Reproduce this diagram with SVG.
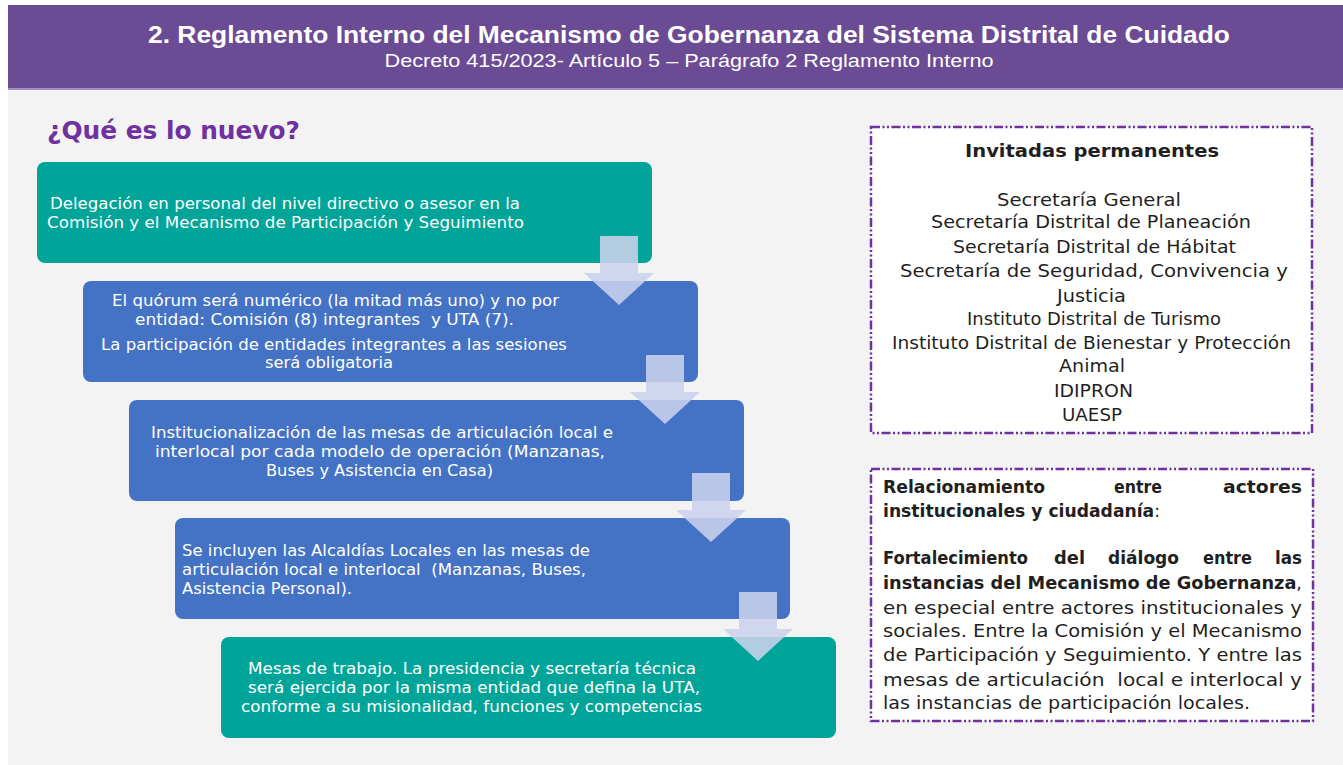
<svg xmlns="http://www.w3.org/2000/svg" width="1343" height="765" viewBox="0 0 1343 765">
<style>
.hdr{font-family:"Liberation Sans","DejaVu Sans",sans-serif;fill:#fff;text-anchor:middle}
.bx{font-family:"DejaVu Sans","Liberation Sans",sans-serif;font-size:15px;fill:#fff}
.teal{fill:#00a499}
.blue{fill:#4472c4}
.arr{fill:#cbd1ec;fill-opacity:0.88}
.panel{fill:#fff;stroke:#7030a0;stroke-width:2.5;stroke-dasharray:9 2.5 2 2.5 2 2.5}
.pt{font-family:"DejaVu Sans","Liberation Sans",sans-serif;font-size:17px;fill:#1f1f1f}
.c{text-anchor:middle}
.b{font-weight:bold}
.pre{white-space:pre}
</style>
<rect x="0" y="0" width="1343" height="765" fill="#ffffff"/>
<rect x="8" y="89" width="1335" height="676" fill="#f3f3f3"/>
<g id="header">
<rect x="8" y="5" width="1335" height="84" fill="#6b4b94"/>
<rect x="8" y="88" width="1335" height="2" fill="#a28fc3"/>
<text class="hdr" x="689" y="43" font-size="24" font-weight="bold" textLength="1082" lengthAdjust="spacingAndGlyphs">2. Reglamento Interno del Mecanismo de Gobernanza del Sistema Distrital de Cuidado</text>
<text class="hdr" x="689" y="67" font-size="18" textLength="609" lengthAdjust="spacingAndGlyphs">Decreto 415/2023- Artículo 5 – Parágrafo 2 Reglamento Interno</text>
</g>
<g id="title">
<text x="47" y="139" font-family="DejaVu Sans, Liberation Sans, sans-serif" font-size="25" font-weight="bold" fill="#7030a0" textLength="253" lengthAdjust="spacingAndGlyphs">¿Qué es lo nuevo?</text>
</g>
<g id="step1">
<rect class="teal" x="37" y="162" width="615" height="101" rx="8"/>
<text class="bx" x="50" y="209" textLength="470" lengthAdjust="spacingAndGlyphs">Delegación en personal del nivel directivo o asesor en la</text>
<text class="bx" x="47" y="228" textLength="477" lengthAdjust="spacingAndGlyphs">Comisión y el Mecanismo de Participación y Seguimiento</text>
</g>
<g id="step2">
<rect class="blue" x="83" y="281" width="615" height="101" rx="8"/>
<text class="bx" x="112" y="306" textLength="447" lengthAdjust="spacingAndGlyphs">El quórum será numérico (la mitad más uno) y no por</text>
<text class="bx pre" xml:space="preserve" x="135" y="325" textLength="379" lengthAdjust="spacingAndGlyphs">entidad: Comisión (8) integrantes  y UTA (7).</text>
<text class="bx" x="101" y="350" textLength="466" lengthAdjust="spacingAndGlyphs">La participación de entidades integrantes a las sesiones</text>
<text class="bx" x="265" y="368" textLength="128" lengthAdjust="spacingAndGlyphs">será obligatoria</text>
</g>
<g id="step3">
<rect class="blue" x="129" y="400" width="615" height="101" rx="8"/>
<text class="bx" x="151" y="438" textLength="462" lengthAdjust="spacingAndGlyphs">Institucionalización de las mesas de articulación local e</text>
<text class="bx" x="155" y="457" textLength="450" lengthAdjust="spacingAndGlyphs">interlocal por cada modelo de operación (Manzanas,</text>
<text class="bx" x="266" y="476" textLength="227" lengthAdjust="spacingAndGlyphs">Buses y Asistencia en Casa)</text>
</g>
<g id="step4">
<rect class="blue" x="175" y="518" width="615" height="101" rx="8"/>
<text class="bx" x="182" y="556" textLength="408" lengthAdjust="spacingAndGlyphs">Se incluyen las Alcaldías Locales en las mesas de</text>
<text class="bx pre" xml:space="preserve" x="182" y="575" textLength="404" lengthAdjust="spacingAndGlyphs">articulación local e interlocal  (Manzanas, Buses,</text>
<text class="bx" x="182" y="594" textLength="170" lengthAdjust="spacingAndGlyphs">Asistencia Personal).</text>
</g>
<g id="step5">
<rect class="teal" x="221" y="637" width="615" height="101" rx="8"/>
<text class="bx" x="248" y="674" textLength="448" lengthAdjust="spacingAndGlyphs">Mesas de trabajo. La presidencia y secretaría técnica</text>
<text class="bx" x="248" y="693" textLength="452" lengthAdjust="spacingAndGlyphs">será ejercida por la misma entidad que defina la UTA,</text>
<text class="bx" x="241" y="712" textLength="461" lengthAdjust="spacingAndGlyphs">conforme a su misionalidad, funciones y competencias</text>
</g>
<g id="connectors">
<path class="arr" d="M600,236 H638 V273 H654 L619,305 L584,273 H600 Z"/>
<path class="arr" d="M646,355 H684 V392 H700 L665,424 L630,392 H646 Z"/>
<path class="arr" d="M692,473 H730 V510 H746 L711,542 L676,510 H692 Z"/>
<path class="arr" d="M739,592 H777 V629 H793 L758,661 L723,629 H739 Z"/>
</g>
<g id="invitadas">
<rect class="panel" x="871" y="127" width="441" height="306"/>
<text class="pt c b" x="1092" y="157" font-size="19" textLength="254" lengthAdjust="spacingAndGlyphs">Invitadas permanentes</text>
<text class="pt c" x="1089" y="206" textLength="184" lengthAdjust="spacingAndGlyphs">Secretaría General</text>
<text class="pt c" x="1091" y="228" textLength="320" lengthAdjust="spacingAndGlyphs">Secretaría Distrital de Planeación</text>
<text class="pt c" x="1094.5" y="253" textLength="283" lengthAdjust="spacingAndGlyphs">Secretaría Distrital de Hábitat</text>
<text class="pt c" x="1094" y="277" textLength="388" lengthAdjust="spacingAndGlyphs">Secretaría de Seguridad, Convivencia y</text>
<text class="pt c" x="1091.5" y="302" textLength="69" lengthAdjust="spacingAndGlyphs">Justicia</text>
<text class="pt c" x="1094" y="325" textLength="254" lengthAdjust="spacingAndGlyphs">Instituto Distrital de Turismo</text>
<text class="pt c" x="1091.5" y="349" textLength="399" lengthAdjust="spacingAndGlyphs">Instituto Distrital de Bienestar y Protección</text>
<text class="pt c" x="1092" y="372" textLength="66" lengthAdjust="spacingAndGlyphs">Animal</text>
<text class="pt c" x="1093.5" y="397" textLength="79" lengthAdjust="spacingAndGlyphs">IDIPRON</text>
<text class="pt c" x="1092" y="421" textLength="60" lengthAdjust="spacingAndGlyphs">UAESP</text>
</g>
<g id="relacionamiento">
<rect class="panel" x="871" y="469" width="442" height="252"/>
<text class="pt b" x="883" y="493" textLength="162" lengthAdjust="spacingAndGlyphs">Relacionamiento</text>
<text class="pt b" x="1114" y="493" textLength="48" lengthAdjust="spacingAndGlyphs">entre</text>
<text class="pt b" x="1223" y="493" textLength="79" lengthAdjust="spacingAndGlyphs">actores</text>
<text class="pt" x="883" y="517" textLength="277" lengthAdjust="spacingAndGlyphs"><tspan class="b">institucionales y ciudadanía</tspan>:</text>
<text class="pt b" x="883" y="564" textLength="145" lengthAdjust="spacingAndGlyphs">Fortalecimiento</text>
<text class="pt b" x="1054" y="564" textLength="31" lengthAdjust="spacingAndGlyphs">del</text>
<text class="pt b" x="1108" y="564" textLength="71" lengthAdjust="spacingAndGlyphs">diálogo</text>
<text class="pt b" x="1203" y="564" textLength="49" lengthAdjust="spacingAndGlyphs">entre</text>
<text class="pt b" x="1275" y="564" textLength="27" lengthAdjust="spacingAndGlyphs">las</text>
<text class="pt" x="883" y="589" textLength="419" lengthAdjust="spacingAndGlyphs"><tspan class="b">instancias del Mecanismo de Gobernanza</tspan>,</text>
<text class="pt" x="883" y="614" textLength="419" lengthAdjust="spacingAndGlyphs">en especial entre actores institucionales y</text>
<text class="pt" x="883" y="637" textLength="419" lengthAdjust="spacingAndGlyphs">sociales. Entre la Comisión y el Mecanismo</text>
<text class="pt" x="883" y="661" textLength="419" lengthAdjust="spacingAndGlyphs">de Participación y Seguimiento. Y entre las</text>
<text class="pt pre" xml:space="preserve" x="883" y="686" textLength="419" lengthAdjust="spacingAndGlyphs">mesas de articulación  local e interlocal y</text>
<text class="pt" x="883" y="709" textLength="367" lengthAdjust="spacingAndGlyphs">las instancias de participación locales.</text>
</g>
</svg>
